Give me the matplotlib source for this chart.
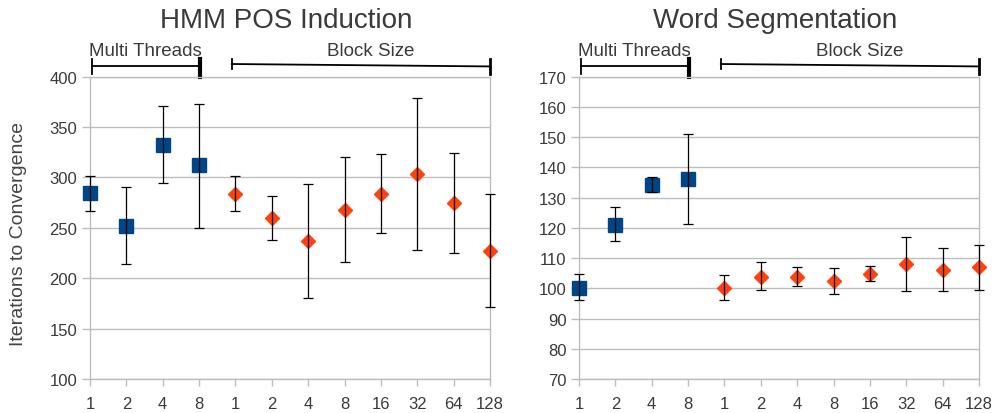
import numpy as np
import matplotlib.pyplot as plt
import matplotlib.transforms as mtransforms

plt.rcParams['font.family'] = ['Liberation Sans', 'DejaVu Sans']

# x tick labels: 4 thread counts, then 8 block sizes
labels = ['1', '2', '4', '8', '1', '2', '4', '8', '16', '32', '64', '128']

# HMM POS Induction
hmm_threads = [284.5, 252, 332, 312]
hmm_threads_lo = [267, 214, 294.5, 250]
hmm_threads_hi = [301, 291, 370.5, 373]
hmm_block = [284, 260, 237, 268, 284, 303.5, 274.5, 227]
hmm_block_lo = [267, 237.5, 180.5, 216.5, 245, 228.5, 225, 171]
hmm_block_hi = [301, 282, 293.5, 320, 323, 379, 324.5, 284]

# Word Segmentation
ws_threads = [100.2, 121.1, 134.2, 136.2]
ws_threads_lo = [96, 115.7, 131.8, 121.2]
ws_threads_hi = [104.7, 126.8, 136.8, 150.9]
ws_block = [100.2, 103.9, 103.9, 102.3, 104.9, 108.1, 106.1, 107.0]
ws_block_lo = [96, 99.3, 100.8, 98, 102.5, 99.2, 99, 99.6]
ws_block_hi = [104.5, 108.7, 107, 106.7, 107.5, 117, 113.3, 114.3]

txtcolor = '#3a3a3a'
gridcolor = '#bdbdbd'
blue = '#004586'
orange = '#ff420e'


def draw_panel(ax, title, thr, thr_lo, thr_hi, blk, blk_lo, blk_hi, ylim, ystep):
    xt = np.arange(len(thr))
    xb = np.arange(len(thr), len(thr) + len(blk))
    thr = np.array(thr); blk = np.array(blk)

    ax.plot(xt, thr, 's', color=blue, markersize=10.5, zorder=3, clip_on=False)
    ax.plot(xb, blk, 'D', color=orange, markersize=6.8, zorder=3, clip_on=False)
    # error bars sit on top of the markers
    ax.errorbar(xt, thr, yerr=[thr - np.array(thr_lo), np.array(thr_hi) - thr],
                fmt='none', ecolor='black', elinewidth=0.9, capsize=3.5,
                capthick=0.9, zorder=4, clip_on=False)
    ax.errorbar(xb, blk, yerr=[blk - np.array(blk_lo), np.array(blk_hi) - blk],
                fmt='none', ecolor='black', elinewidth=0.9, capsize=3.5,
                capthick=0.9, zorder=4, clip_on=False)

    ax.set_xlim(0, len(labels) - 1)
    ax.set_ylim(*ylim)
    ax.set_yticks(np.arange(ylim[0], ylim[1] + 1, ystep))
    ax.set_xticks(np.arange(len(labels)))
    ax.set_xticklabels(labels)
    ax.grid(axis='y', color=gridcolor, linewidth=1)
    ax.set_axisbelow(True)
    for s in ax.spines.values():
        s.set_color(gridcolor)
        s.set_linewidth(1)
    ax.tick_params(axis='both', colors=gridcolor, labelcolor=txtcolor, labelsize=12, width=1)
    ax.tick_params(axis='y', length=6, pad=3)
    ax.tick_params(axis='x', length=5, pad=7)

    ax.text(0.49, 1.163, title, transform=ax.transAxes, ha='center', va='baseline',
            fontsize=20, color=txtcolor)

    # group brackets above the plot
    tr = mtransforms.blended_transform_factory(ax.transData, ax.transAxes)
    ax.plot([0.05, 3.03], [1.034, 1.034], color='black', lw=1.3, transform=tr, clip_on=False)
    ax.plot([0.05, 0.05], [1.01, 1.058], color='black', lw=1.3, transform=tr, clip_on=False)
    ax.plot([3.03, 3.03], [1.0, 1.06], color='black', lw=3, transform=tr, clip_on=False)
    ax.plot([3.9, 11.0], [1.042, 1.034], color='black', lw=1.3, transform=tr, clip_on=False)
    ax.plot([3.9, 3.9], [1.025, 1.057], color='black', lw=1.3, transform=tr, clip_on=False)
    ax.plot([11.0, 11.0], [1.01, 1.06], color='black', lw=2, transform=tr, clip_on=False)
    ax.text(1.52, 1.073, 'Multi Threads', transform=tr, ha='center', va='baseline',
            fontsize=13.5, color=txtcolor)
    ax.text(7.72, 1.073, 'Block Size', transform=tr, ha='center', va='baseline',
            fontsize=13.5, color=txtcolor)


fig = plt.figure(figsize=(10, 4.14), dpi=100)
ax1 = fig.add_axes([0.09, 0.0821, 0.40, 0.7302])
ax2 = fig.add_axes([0.579, 0.0821, 0.40, 0.7302])

draw_panel(ax1, 'HMM POS Induction', hmm_threads, hmm_threads_lo, hmm_threads_hi,
           hmm_block, hmm_block_lo, hmm_block_hi, (100, 400), 50)
draw_panel(ax2, 'Word Segmentation', ws_threads, ws_threads_lo, ws_threads_hi,
           ws_block, ws_block_lo, ws_block_hi, (70, 170), 10)

fig.text(0.019, 0.435, 'Iterations to Convergence', rotation=90, ha='center', va='center',
         fontsize=14, color='#444444')

fig.savefig('out.png', dpi=100)
